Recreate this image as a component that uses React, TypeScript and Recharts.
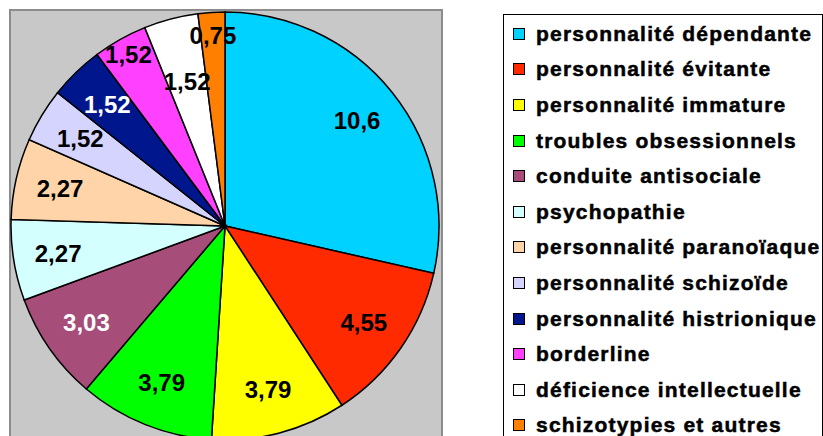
import { Legend, Pie, PieChart, Cell } from "recharts";

const categories = [
  "personnalité dépendante",
  "personnalité évitante",
  "personnalité immature",
  "troubles obsessionnels",
  "conduite antisociale",
  "psychopathie",
  "personnalité paranoïaque",
  "personnalité schizoïde",
  "personnalité histrionique",
  "borderline",
  "déficience intellectuelle",
  "schizotypies et autres",
];

const values = [10.6, 4.55, 3.79, 3.79, 3.03, 2.27, 2.27, 1.52, 1.52, 1.52, 1.52, 0.75];

const COLORS = [
  "#00D2FF",
  "#FF2A00",
  "#FFFF00",
  "#00FF00",
  "#A64D79",
  "#D4FFFF",
  "#FFD4A8",
  "#D4D4FF",
  "#00168C",
  "#FF40FF",
  "#FFFFFF",
  "#FF8000",
];
// slices with a dark fill get white labels
const DARK = new Set([4, 8]);
// excel "best fit" nudges labels of the thin top slices in / out so they don't collide
const LABEL_R: Record<number, number> = { 9: 0.92, 10: 0.7, 11: 0.89 };

const data = categories.map((name, i) => ({ name, value: values[i] }));

const FONT = "Arial, 'Liberation Sans', sans-serif";
const RAD = Math.PI / 180;

function renderLabel(props: any) {
  const { cx, cy, midAngle, outerRadius, value, index } = props;
  const r = outerRadius * (LABEL_R[index] ?? 0.79);
  const x = cx + r * Math.cos(-midAngle * RAD);
  const y = cy + r * Math.sin(-midAngle * RAD);
  return (
    <text
      x={x}
      y={y}
      textAnchor="middle"
      dominantBaseline="central"
      fontFamily={FONT}
      fontWeight="bold"
      fontSize={24}
      fill={DARK.has(index) ? "#ffffff" : "#000000"}
    >
      {String(value).replace(".", ",")}
    </text>
  );
}

function LegendBox() {
  return (
    <div
      style={{
        boxSizing: "border-box",
        width: 320,
        height: 440,
        border: "1.5px solid #000",
        background: "#fff",
        paddingTop: 1,
        paddingLeft: 9,
      }}
    >
      {data.map((d, i) => (
        <div
          key={d.name}
          style={{
            display: "flex",
            alignItems: "center",
            height: 35.6,
            fontFamily: FONT,
            fontWeight: "bold",
            fontSize: 21,
            letterSpacing: 1.2,
            color: "#000",
            WebkitTextStroke: "0.5px #000",
            whiteSpace: "nowrap",
          }}
        >
          <span
            style={{
              display: "inline-block",
              width: 10,
              height: 10,
              border: "1px solid #000",
              background: COLORS[i],
              marginRight: 11,
              flexShrink: 0,
            }}
          />
          {d.name}
        </div>
      ))}
    </div>
  );
}

export default function App() {
  return (
    <div style={{ position: "absolute", left: 0, top: 0, width: 823, height: 436, overflow: "hidden", background: "#fff" }}>
      <div
        style={{
          position: "absolute",
          left: 9,
          top: 9,
          width: 430,
          height: 440,
          background: "#C8C8C8",
          border: "2px solid #8C8C8C",
        }}
      />
      <div style={{ position: "absolute", left: 0, top: 0 }}>
        <PieChart width={823} height={436} margin={{ top: 0, right: 0, bottom: 0, left: 0 }}>
          <Pie
            data={data}
            dataKey="value"
            nameKey="name"
            cx={225}
            cy={226}
            outerRadius={214}
            startAngle={90}
            endAngle={-270}
            stroke="#000"
            strokeWidth={1.5}
            label={renderLabel}
            labelLine={false}
            isAnimationActive={false}
          >
            {data.map((d, i) => (
              <Cell key={d.name} fill={COLORS[i]} />
            ))}
          </Pie>
          <Legend
            content={() => <LegendBox />}
            wrapperStyle={{ position: "absolute", left: 503, top: 14, width: 320, height: 440 }}
          />
        </PieChart>
      </div>
    </div>
  );
}
